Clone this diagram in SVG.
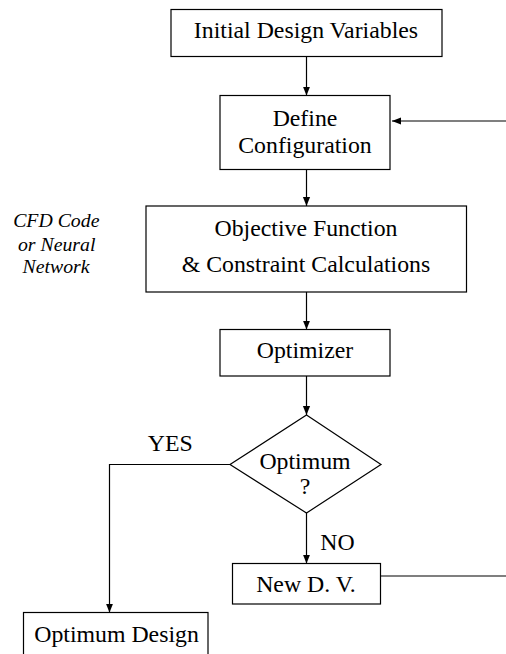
<svg xmlns="http://www.w3.org/2000/svg" width="506" height="654" viewBox="0 0 506 654">
<defs>
<marker id="ah" viewBox="0 0 10 10" refX="10" refY="5" markerWidth="9" markerHeight="9" markerUnits="userSpaceOnUse" orient="auto">
<path d="M0,1 L10,5 L0,9 z" fill="#000"/>
</marker>
<style>
.box{fill:#fff;stroke:#000;stroke-width:1.2}
.t{font-family:'Liberation Serif','Times New Roman',serif;font-size:23.8px;fill:#000;text-anchor:middle}
.it{font-family:'Liberation Serif','Times New Roman',serif;font-size:19.8px;font-style:italic;fill:#000;text-anchor:middle}
.ln{fill:none;stroke:#000;stroke-width:1.2}
.ar{fill:none;stroke:#000;stroke-width:1.2;marker-end:url(#ah)}
</style>
</defs>
<rect width="506" height="654" fill="#fff"/>
<g id="connectors">
<line class="ar" x1="306.5" y1="57" x2="306.5" y2="95.5"/>
<line class="ar" x1="506" y1="121" x2="392" y2="121"/>
<line class="ar" x1="306.5" y1="169.5" x2="306.5" y2="206"/>
<line class="ar" x1="306.5" y1="292" x2="306.5" y2="329.5"/>
<line class="ar" x1="306.5" y1="376" x2="306.5" y2="415"/>
<polyline class="ar" points="230,464.5 109.5,464.5 109.5,612.5"/>
<line class="ar" x1="306.5" y1="513" x2="306.5" y2="563.5"/>
<line class="ln" x1="380.5" y1="576" x2="506" y2="576"/>
<text class="t" x="170.3" y="451">YES</text>
<text class="t" x="337.5" y="550">NO</text>
</g>
<g id="initial">
<rect class="box" x="171" y="9.5" width="271" height="47"/>
<text class="t" x="306" y="38.3">Initial Design Variables</text>
</g>
<g id="define">
<rect class="box" x="220" y="95.5" width="170" height="74"/>
<text class="t" x="305" y="126">Define</text>
<text class="t" x="305" y="152.7">Configuration</text>
</g>
<g id="objective">
<rect class="box" x="146" y="206" width="320.5" height="86"/>
<text class="t" x="306" y="235.7">Objective Function</text>
<text class="t" x="306" y="272.3">&amp; Constraint Calculations</text>
</g>
<g id="cfd">
<text class="it" x="56.3" y="226.7">CFD Code</text>
<text class="it" x="56.7" y="250.5">or Neural</text>
<text class="it" x="56" y="273.3">Network</text>
</g>
<g id="optimizer">
<rect class="box" x="220" y="329.5" width="170" height="46.5"/>
<text class="t" x="305" y="358">Optimizer</text>
</g>
<g id="decision">
<polygon class="box" points="306.5,415 381,464.5 306.5,513 230,464.5"/>
<text class="t" x="305" y="469">Optimum</text>
<text class="t" x="305" y="494.3">?</text>
</g>
<g id="newdv">
<rect class="box" x="232.5" y="563.5" width="148" height="40.5"/>
<text class="t" x="306" y="592.3">New D. V.</text>
</g>
<g id="optdesign">
<rect class="box" x="23.5" y="612.5" width="184.5" height="50"/>
<text class="t" x="116.5" y="641.7">Optimum Design</text>
</g>
</svg>
